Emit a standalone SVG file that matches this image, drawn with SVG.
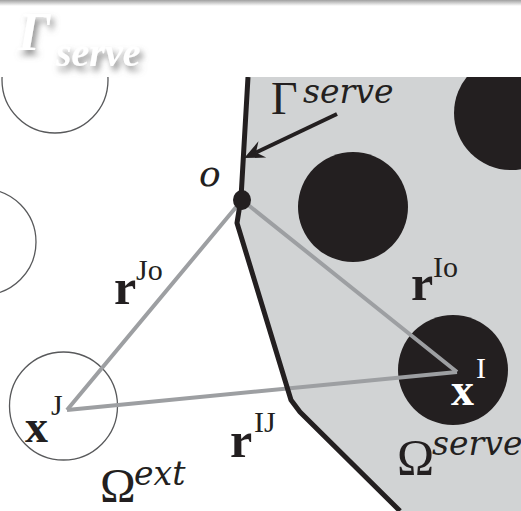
<svg xmlns="http://www.w3.org/2000/svg" width="521" height="511" viewBox="0 0 521 511">
<style>
.serif{font-family:"Liberation Serif","Times New Roman",serif}
.math{font-family:"DejaVu Serif","Liberation Serif",serif;font-style:italic}
.it{font-style:italic}
.bd{font-weight:bold}
.lab{fill:#231f20}
.conn{stroke:#9d9fa2;stroke-width:4;fill:none;stroke-linejoin:miter}
.bound{stroke:#231f20;stroke-width:5;fill:none;stroke-linejoin:round}
.hole{fill:#231f20}
.ring{fill:none;stroke:#58595b;stroke-width:1.3}
</style>
<defs>
<linearGradient id="topbar" x1="0" y1="0" x2="0" y2="1">
<stop offset="0" stop-color="#a0a0a0"/>
<stop offset="1" stop-color="#ffffff"/>
</linearGradient>
<filter id="shadow" x="-30%" y="-30%" width="160%" height="160%">
<feDropShadow dx="3" dy="5" stdDeviation="3" flood-color="#707070" flood-opacity="0.8"/>
</filter>
<clipPath id="pic"><rect x="0" y="77" width="521" height="434"/></clipPath>
<marker id="stealth" markerUnits="userSpaceOnUse" viewBox="-22 -11 24 22" markerWidth="24" markerHeight="22" refX="-13" refY="0" orient="auto">
<path d="M0,0 L-20,-9 L-13,0 L-20,9 Z" fill="#231f20"/>
</marker>
</defs>
<rect width="521" height="511" fill="#ffffff"/>
<rect x="0" y="0" width="521" height="6" fill="url(#topbar)"/>
<g id="title" filter="url(#shadow)" fill="#ffffff">
<text class="serif it bd" x="18" y="50" font-size="54">Γ</text>
<text class="serif it bd" x="56" y="66" font-size="40">serve</text>
</g>
<g clip-path="url(#pic)">
<g id="omega-serve-region">
<polygon points="248,77 241,198 237,223 291,400 300,412 400,511 521,511 521,77" fill="#d1d3d4"/>
</g>
<g id="inclusions">
<circle id="hole-top" class="hole" cx="511" cy="113" r="57"/>
<circle id="hole-mid" class="hole" cx="353" cy="207" r="55"/>
<circle id="node-xI" class="hole" cx="453" cy="370" r="55"/>
<circle id="ring-top" class="ring" cx="55" cy="80" r="53"/>
<circle id="ring-left" class="ring" cx="-17" cy="242" r="53"/>
<circle id="node-xJ" class="ring" cx="63.5" cy="406" r="54"/>
</g>
<g id="connectors">
<polyline class="conn" points="67,410 242,200 457,372"/>
<line class="conn" x1="67" y1="410" x2="457" y2="372"/>
</g>
<g id="gamma-serve-boundary">
<polyline class="bound" points="248,77 241,198 237,223 291,400 300,412 400,511"/>
</g>
<g id="node-o">
<ellipse cx="242" cy="200" rx="9" ry="10" fill="#231f20"/>
</g>
<g id="arrow">
<line x1="337" y1="114" x2="256" y2="152.5" stroke="#231f20" stroke-width="4" marker-end="url(#stealth)"/>
</g>
</g>
<g id="labels" class="serif lab">
<text class="math" x="199" y="186" font-size="36">o</text>
<text x="271" y="114" font-size="46">Γ</text>
<text class="math" x="303" y="103" font-size="33">serve</text>
<text class="bd" x="114" y="304" font-size="50">r</text>
<text x="136" y="280" font-size="30">Jo</text>
<text class="bd" x="411" y="300" font-size="50">r</text>
<text x="433" y="277" font-size="30">Io</text>
<text class="bd" x="230" y="457" font-size="50">r</text>
<text x="254" y="432" font-size="30">IJ</text>
<text class="bd" x="25" y="442" font-size="46">x</text>
<text x="51" y="415" font-size="30">J</text>
<text class="bd" x="451" y="405" font-size="46" fill="#ffffff">x</text>
<text x="476" y="378" font-size="30" fill="#ffffff">I</text>
<text x="100" y="502" font-size="48">Ω</text>
<text class="math" x="134" y="485" font-size="33">ext</text>
<text x="397" y="474" font-size="50">Ω</text>
<text class="math" x="432" y="455" font-size="33">serve</text>
</g>
</svg>
